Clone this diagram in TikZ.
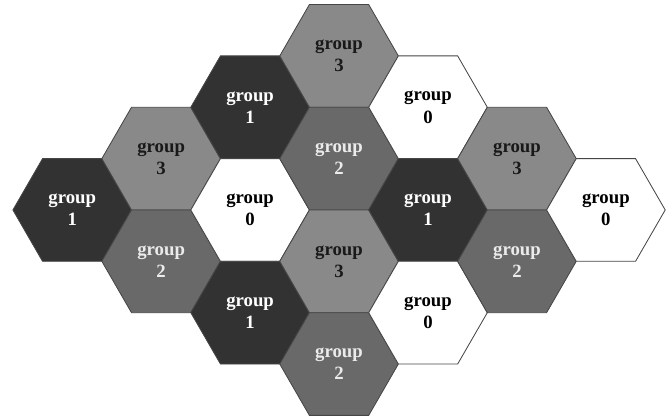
\documentclass[tikz,border=0pt]{standalone}
\usepackage{fontspec}
\setmainfont{Liberation Serif}
\usepackage{tikz}
\usetikzlibrary{shapes.geometric}
\usepackage{xcolor}
\definecolor{grpdark}{RGB}{50,50,50}
\definecolor{grpmid}{RGB}{105,105,105}
\definecolor{grplight}{RGB}{137,137,137}
\definecolor{hexedge}{RGB}{70,70,70}

\begin{document}
\begin{tikzpicture}[
    hexcell/.style={regular polygon, regular polygon sides=6, minimum size=2cm,
      inner sep=0pt, outer sep=0pt, draw=hexedge, line width=0.4pt, align=center,
      font=\fontsize{9}{10.6}\selectfont\bfseries},
    g0/.style={hexcell, fill=white, text=black},
    g1/.style={hexcell, fill=grpdark, text=white},
    g2/.style={hexcell, fill=grpmid, text=white!92!black},
    g3/.style={hexcell, fill=grplight, text=black!90}]
        \useasboundingbox (-1.2175,-3.508) rectangle (10.098,3.541);

        % Hex cells: column / row offset / group
        \foreach \c/\k/\g [count=\i] in {0/0/1, 1/1/3, 1/-1/2, 2/2/1, 2/0/0, 2/-2/1,
            3/3/3, 3/1/2, 3/-1/3, 3/-3/2, 4/2/0, 4/0/1, 4/-2/0, 5/1/3, 5/-1/2, 6/0/0}{
          \node[g\g] (cell\i) at (1.5*\c, 0.866*\k) {group\\\g};
        }
      \end{tikzpicture}
\end{document}
